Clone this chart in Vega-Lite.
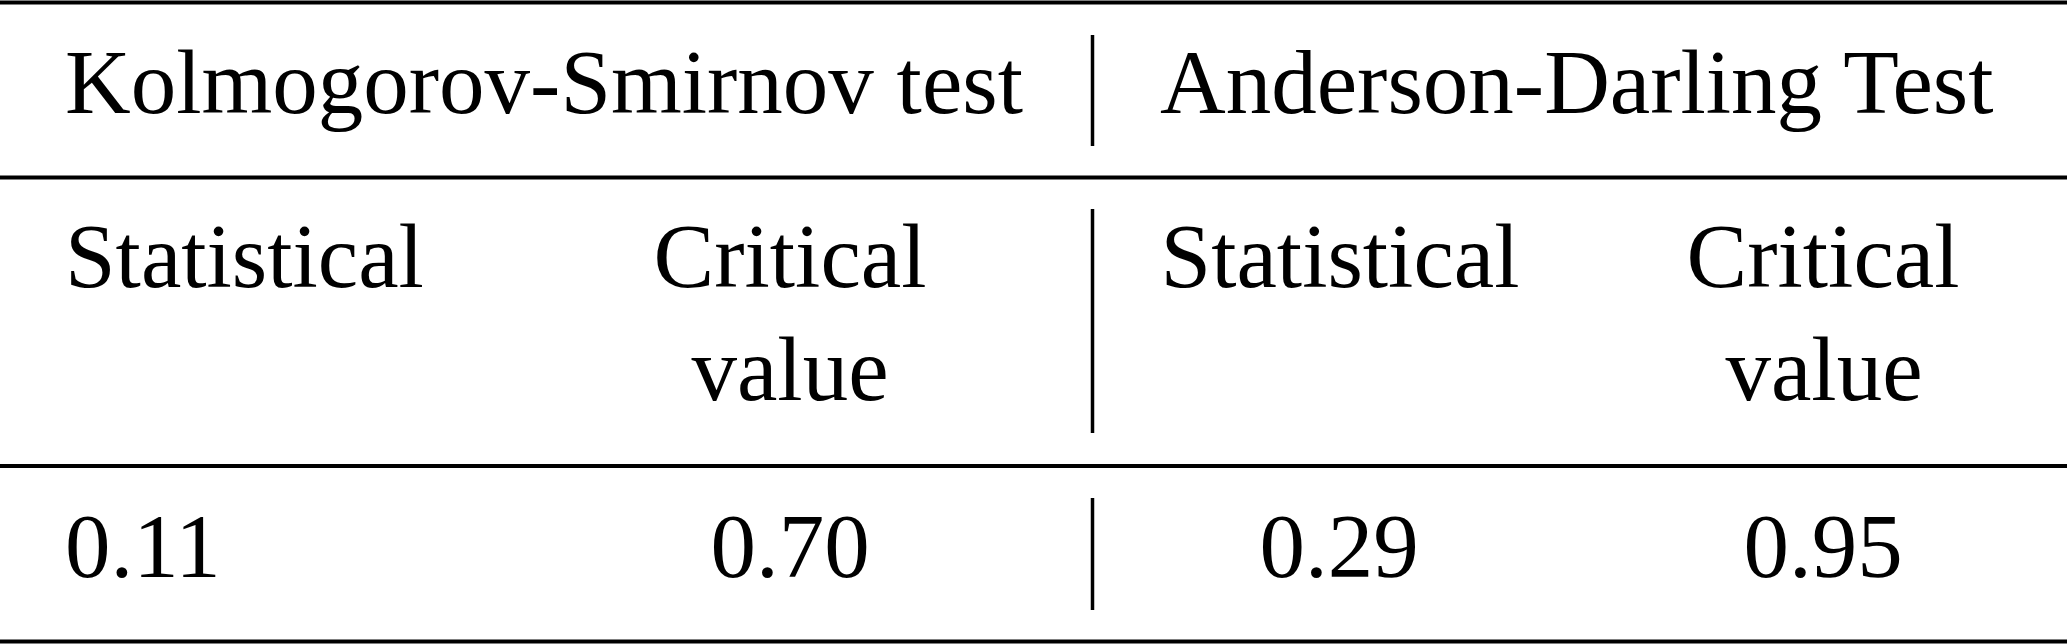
{
  "$schema": "https://vega.github.io/schema/vega-lite/v6.json",
  "width": 2067,
  "height": 644,
  "autosize": "none",
  "padding": 0,
  "background": "white",
  "config": {"view": {"stroke": null}, "font": "Liberation Serif"},
  "datasets": {
    "cells": [
      {"label": "Kolmogorov-Smirnov test", "xpos": 65, "ypos": 113, "anchor": "left"},
      {"label": "Anderson-Darling Test", "xpos": 1160, "ypos": 113, "anchor": "left"},
      {"label": "Statistical", "xpos": 65, "ypos": 287, "anchor": "left"},
      {"label": "Critical", "xpos": 790, "ypos": 287, "anchor": "center"},
      {"label": "value", "xpos": 790, "ypos": 400, "anchor": "center"},
      {"label": "Statistical", "xpos": 1340, "ypos": 287, "anchor": "center"},
      {"label": "Critical", "xpos": 1823, "ypos": 287, "anchor": "center"},
      {"label": "value", "xpos": 1824, "ypos": 400, "anchor": "center"},
      {"label": "0.11", "xpos": 65, "ypos": 577, "anchor": "left"},
      {"label": "0.70", "xpos": 790, "ypos": 577, "anchor": "center"},
      {"label": "0.29", "xpos": 1339, "ypos": 577, "anchor": "center"},
      {"label": "0.95", "xpos": 1823, "ypos": 577, "anchor": "center"}
    ],
    "hlines": [
      {"x1": 0, "x2": 2067, "y": 2.5},
      {"x1": 0, "x2": 2067, "y": 177.5},
      {"x1": 0, "x2": 2067, "y": 466},
      {"x1": 0, "x2": 2067, "y": 641.5}
    ],
    "vlines": [
      {"x": 1092.5, "y1": 35, "y2": 146},
      {"x": 1092.5, "y1": 209, "y2": 433},
      {"x": 1092.5, "y1": 498, "y2": 610}
    ]
  },
  "layer": [
    {
      "data": {"name": "hlines"},
      "mark": {"type": "rule", "color": "black", "strokeWidth": 4},
      "encoding": {
        "x": {"field": "x1", "type": "quantitative", "scale": {"domain": [0, 2067], "nice": false, "zero": false}, "axis": null},
        "x2": {"field": "x2"},
        "y": {"field": "y", "type": "quantitative", "scale": {"domain": [0, 644], "reverse": true, "nice": false, "zero": false}, "axis": null}
      }
    },
    {
      "data": {"name": "vlines"},
      "mark": {"type": "rule", "color": "black", "strokeWidth": 3.5},
      "encoding": {
        "x": {"field": "x", "type": "quantitative", "axis": null},
        "y": {"field": "y1", "type": "quantitative", "axis": null},
        "y2": {"field": "y2"}
      }
    },
    {
      "data": {"name": "cells"},
      "transform": [{"filter": "datum.anchor === 'left'"}],
      "mark": {"type": "text", "font": "'Liberation Serif', serif", "fontSize": 91, "fontWeight": 400, "fontStyle": "normal", "align": "left", "baseline": "alphabetic", "color": "black"},
      "encoding": {
        "x": {"field": "xpos", "type": "quantitative", "axis": null},
        "y": {"field": "ypos", "type": "quantitative", "axis": null},
        "text": {"field": "label"}
      }
    },
    {
      "data": {"name": "cells"},
      "transform": [{"filter": "datum.anchor === 'center'"}],
      "mark": {"type": "text", "font": "'Liberation Serif', serif", "fontSize": 91, "fontWeight": 400, "fontStyle": "normal", "align": "center", "baseline": "alphabetic", "color": "black"},
      "encoding": {
        "x": {"field": "xpos", "type": "quantitative", "axis": null},
        "y": {"field": "ypos", "type": "quantitative", "axis": null},
        "text": {"field": "label"}
      }
    }
  ]
}
